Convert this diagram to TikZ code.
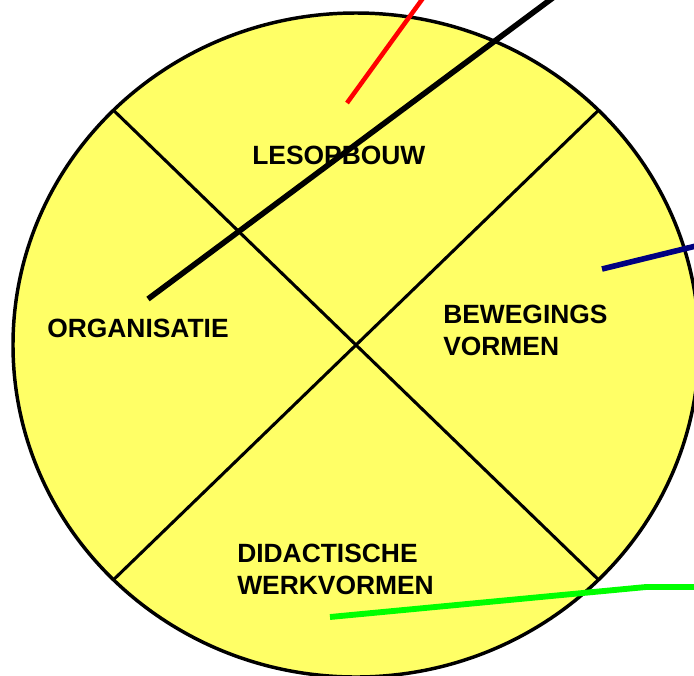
\documentclass[tikz,border=0pt]{standalone}
\usepackage{fontspec}
\setmainfont{Liberation Sans}
\usepackage{xcolor}
\usetikzlibrary{calc}
\definecolor{discgeel}{HTML}{FFFF66}
\definecolor{marine}{HTML}{000080}

\begin{document}
\begin{tikzpicture}[x=0.75pt,y=-0.75pt,
  lbl/.style={font=\bfseries\fontsize{19.8}{24}\selectfont,anchor=west,inner sep=0pt,align=left},
  wijzer/.style={line width=#1,line cap=butt}]
  \useasboundingbox (0,0) rectangle (694,676);
  \clip (0,0) rectangle (694,676);
  % schijf met kruis
  \coordinate (m) at (356,345);
  \fill[discgeel] (m) ellipse [x radius=343, y radius=332];
  \coordinate (nw) at ($(m)+(225:343 and 332)$);
  \coordinate (se) at ($(m)+(45:343 and 332)$);
  \coordinate (ne) at ($(m)+(315:343 and 332)$);
  \coordinate (sw) at ($(m)+(135:343 and 332)$);
  \draw[line width=2.3pt] (nw) -- (se);
  \draw[line width=2.3pt] (ne) -- (sw);
  \draw[line width=2.6pt] (m) ellipse [x radius=343, y radius=332];
  % teksten
  \node[lbl] (lesopbouw) at (252,155.5) {LESOPBOUW};
  \node[lbl] (organisatie) at (47,328) {ORGANISATIE};
  \node[lbl] (bewegings) at (443,330) {BEWEGINGS\\VORMEN};
  \node[lbl] (didactisch) at (237,569.5) {DIDACTISCHE\\WERKVORMEN};
  % wijzers
  \coordinate (rood a) at (347,103); \coordinate (rood b) at (426,-6);
  \coordinate (zwart a) at (148,299); \coordinate (zwart b) at (558,-6);
  \coordinate (blauw a) at (602,269); \coordinate (blauw b) at (700,245);
  \coordinate (groen a) at (330,617); \coordinate (groen k) at (646,587);
  \coordinate (groen b) at (700,587);
  \draw[wijzer=3.4pt,red] (rood a) -- (rood b);
  \draw[wijzer=4.2pt,black] (zwart a) -- (zwart b);
  \draw[wijzer=4.2pt,marine] (blauw a) -- (blauw b);
  \draw[wijzer=4.4pt,green,line join=round] (groen a) -- (groen k) -- (groen b);
\end{tikzpicture}
\end{document}
